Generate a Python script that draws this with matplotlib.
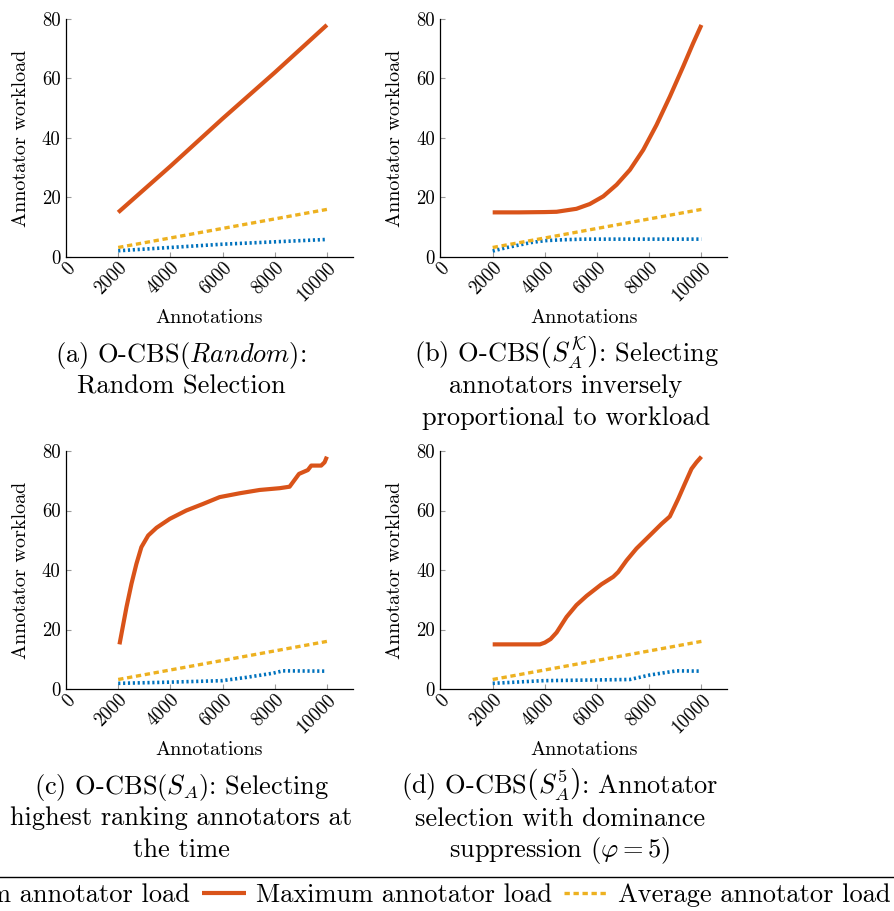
import matplotlib
matplotlib.use("Agg")
import matplotlib.pyplot as plt

plt.rcParams["font.family"] = "serif"
plt.rcParams["font.serif"] = ["cmr10"]
plt.rcParams["mathtext.fontset"] = "cm"
plt.rcParams["axes.formatter.use_mathtext"] = True
plt.rcParams["axes.unicode_minus"] = False

# workload curves per strategy (annotations -> annotator workload)
avg_x = [2000, 10000]
avg_y = [3.2, 16.0]

a_max_x = [2000, 4000, 6000, 8000, 10000]
a_max_y = [15, 30.5, 46.5, 62, 78]
a_min_x = [2000, 4000, 6000, 8000, 10000]
a_min_y = [2.1, 3.2, 4.3, 5.1, 5.9]

b_max_x = [2000, 3000, 4000, 4450, 5210, 5720, 6240, 6750, 7260, 7770, 8280, 8790, 9300, 9680, 10000]
b_max_y = [15, 15, 15.1, 15.2, 16.2, 17.8, 20.4, 24.3, 29.3, 36.0, 44.4, 53.9, 64.0, 71.8, 78.0]
b_min_x = [2000, 2500, 3050, 3500, 4000, 4700, 5470, 10000]
b_min_y = [2.0, 3.1, 4.1, 4.9, 5.5, 5.8, 6.0, 6.0]

c_max_x = [2050, 2320, 2510, 2700, 2890, 3150, 3470, 3980, 4610, 5250, 5890, 6660,
           7420, 8190, 8570, 8930, 9270, 9400, 9780, 9910, 10000]
c_max_y = [15, 27.6, 35.4, 42.1, 47.7, 51.6, 54.2, 57.2, 60, 62.2, 64.5, 65.8,
           66.9, 67.5, 68, 72.3, 73.6, 75.1, 75.1, 76.2, 78.1]
c_min_x = [2000, 3980, 5980, 6910, 7930, 8310, 10000]
c_min_y = [1.9, 2.3, 2.8, 3.9, 5.3, 6.1, 6.0]

d_max_x = [2000, 3810, 4000, 4220, 4450, 4830, 5210, 5600, 6170, 6620, 6810, 7130,
           7510, 8020, 8470, 8790, 9110, 9360, 9620, 9810, 10000]
d_max_y = [15, 15, 15.6, 16.8, 19.0, 24.2, 28.2, 31.3, 35.2, 37.7, 39.3, 43.2,
           47.2, 51.6, 55.5, 58.0, 63.9, 68.9, 74.0, 76.2, 78.1]
d_min_x = [2000, 3950, 7260, 8020, 9040, 10000]
d_min_y = [1.9, 2.8, 3.2, 4.7, 6.1, 6.0]

x_ticks = [0, 2000, 4000, 6000, 8000, 10000]
y_ticks = [0, 20, 40, 60, 80]

captions = [
    ["(a) O-CBS($\\mathit{Random}$):", "Random Selection"],
    ["(b) O-CBS$\\left(S_A^{\\mathcal{K}}\\right)$: Selecting", "annotators inversely",
     "proportional to workload"],
    ["(c) O-CBS($S_A$): Selecting", "highest ranking annotators at", "the time"],
    ["(d) O-CBS$\\left(S_A^{5}\\right)$: Annotator", "selection with dominance",
     "suppression ($\\varphi = 5$)"],
]

panels = [
    (a_min_x, a_min_y, a_max_x, a_max_y),
    (b_min_x, b_min_y, b_max_x, b_max_y),
    (c_min_x, c_min_y, c_max_x, c_max_y),
    (d_min_x, d_min_y, d_max_x, d_max_y),
]

blue = "#0072BD"
red = "#D95319"
yellow = "#EDB120"

W, H = 895, 911
fig = plt.figure(figsize=(W / 100, H / 100), dpi=100)

# axes corners in pixels: left spine x, y of the x axis
lefts = [66, 440.5, 66, 440.5]
bottoms = [257, 257, 689, 689]
ax_w, ax_h = 287, 238
cap_cx = [181, 566, 181, 560]

for i, (mn_x, mn_y, mx_x, mx_y) in enumerate(panels):
    ax = fig.add_axes([lefts[i] / W, 1 - bottoms[i] / H, ax_w / W, ax_h / H])
    l_min, = ax.plot(mn_x, mn_y, color=blue, lw=2.6, linestyle=(0, (0.6, 0.75)),
                     label="Minimum annotator load")
    l_max, = ax.plot(mx_x, mx_y, color=red, lw=3.0, solid_capstyle="butt",
                     label="Maximum annotator load")
    l_avg, = ax.plot(avg_x, avg_y, color=yellow, lw=2.4, linestyle=(0, (1.6, 1.1)),
                     label="Average annotator load")
    ax.set_xlim(0, 11000)
    ax.set_ylim(0, 80)
    ax.set_xticks(x_ticks)
    ax.set_yticks(y_ticks)
    ax.set_xticklabels([str(t) for t in x_ticks])
    ax.set_yticklabels([str(t) for t in y_ticks])
    for s in ["top", "right"]:
        ax.spines[s].set_visible(False)
    for s in ["left", "bottom"]:
        ax.spines[s].set_linewidth(0.9)
    ax.tick_params(direction="in", length=3.8, width=0.8, color="#9a9a9a",
                   labelsize=13.5)
    ax.tick_params(axis="y", pad=4)
    ax.tick_params(axis="x", pad=1.5)
    for lab in ax.get_xticklabels():
        lab.set_rotation(45)
        lab.set_ha("right")
        lab.set_va("top")
        lab.set_rotation_mode("anchor")

    # axis titles
    cx = lefts[i] + ax_w / 2
    fig.text(cx / W, 1 - (bottoms[i] + 61) / H, "Annotations", ha="center",
             va="center", fontsize=14.5)
    fig.text((lefts[i] - 45) / W, 1 - (bottoms[i] - ax_h / 2) / H,
             "Annotator workload", ha="center", va="center", rotation=90,
             fontsize=14.5)

    # sub-captions
    for k, line in enumerate(captions[i]):
        base = bottoms[i] + 105 + k * 31.5
        fig.text(cap_cx[i] / W, 1 - base / H, line, ha="center", va="baseline",
                 fontsize=19)

leg = fig.legend([l_min, l_max, l_avg],
                 ["Minimum annotator load", "Maximum annotator load",
                  "Average annotator load"],
                 loc="upper right", bbox_to_anchor=(897 / W, 1 - 877 / H),
                 borderaxespad=0, ncol=3, fontsize=19, frameon=True,
                 fancybox=False, edgecolor="black", framealpha=1,
                 handlelength=1.7, handletextpad=0.35, columnspacing=0.45,
                 borderpad=0.25)
leg.get_frame().set_linewidth(1.0)

fig.savefig("out.png", dpi=100)
